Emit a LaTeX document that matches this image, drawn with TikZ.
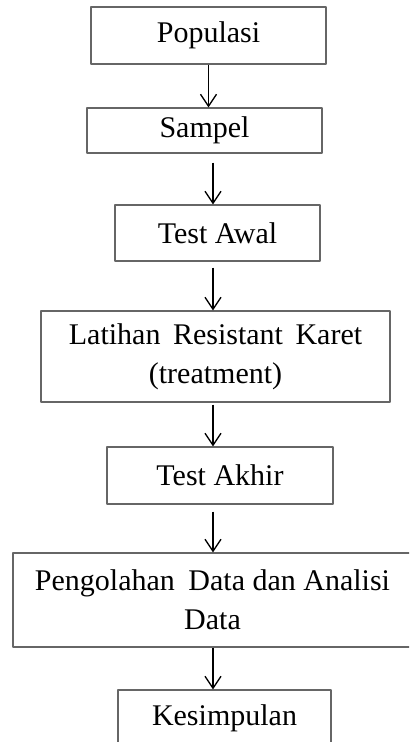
\documentclass[tikz,border=0pt]{standalone}
\usepackage{fontspec}
\setmainfont{Liberation Serif}
\usetikzlibrary{arrows.meta}
\begin{document}
\begin{tikzpicture}[x=0.5pt, y=-0.5pt, font=\fontsize{15}{19.5}\selectfont, line join=round,
		kotak/.style={draw=black!60, line width=0.6pt, inner sep=0pt, align=center},
		panah/.style={-{Straight Barb[length=6pt,width=8pt]}, line width=0.65pt}]
		\useasboundingbox (0,0) rectangle (409,742);
		\clip (0,0) rectangle (409,742);
		\coordinate (ax) at (213,0);
		\node[kotak, minimum width=117.5pt, minimum height=28.5pt] (pop) at (208.5,35.5) {Populasi};
		\node[kotak, minimum width=117.5pt, minimum height=22.5pt] (samp) at (204.5,130.5) {Sampel};
		\node[kotak, minimum width=102.5pt, minimum height=28pt] (tawal) at (217.5,233) {Test Awal};
		\node[kotak, minimum width=174.5pt, minimum height=45.5pt] (latih) at (215.5,356.5) {Latihan\hspace{2.5pt} Resistant\hspace{2.5pt} Karet\\(treatment)};
		\node[kotak, minimum width=113pt, minimum height=28.5pt] (takhir) at (220,475.5) {Test Akhir};
		\node[kotak, minimum width=199.5pt, minimum height=47pt] (olah) at (212.5,600) {Pengolahan\hspace{3pt} Data dan Analisi\\Data};
		\node[kotak, minimum width=106.5pt, minimum height=28.5pt] (simpul) at (224.5,718.5) {Kesimpulan};
		\draw[panah] (pop.south) -- (samp.north -| pop.south);
		\draw[panah, shorten <=4.5pt] (samp.south -| ax) -- (tawal.north -| ax);
		\draw[panah, shorten <=3pt] (tawal.south -| ax) -- (latih.north -| ax);
		\draw[panah, shorten <=1pt] (latih.south -| ax) -- (takhir.north -| ax);
		\draw[panah, shorten <=3.5pt] (takhir.south -| ax) -- (olah.north -| ax);
		\draw[panah] (olah.south -| ax) -- (simpul.north -| ax);
\end{tikzpicture}
\end{document}
